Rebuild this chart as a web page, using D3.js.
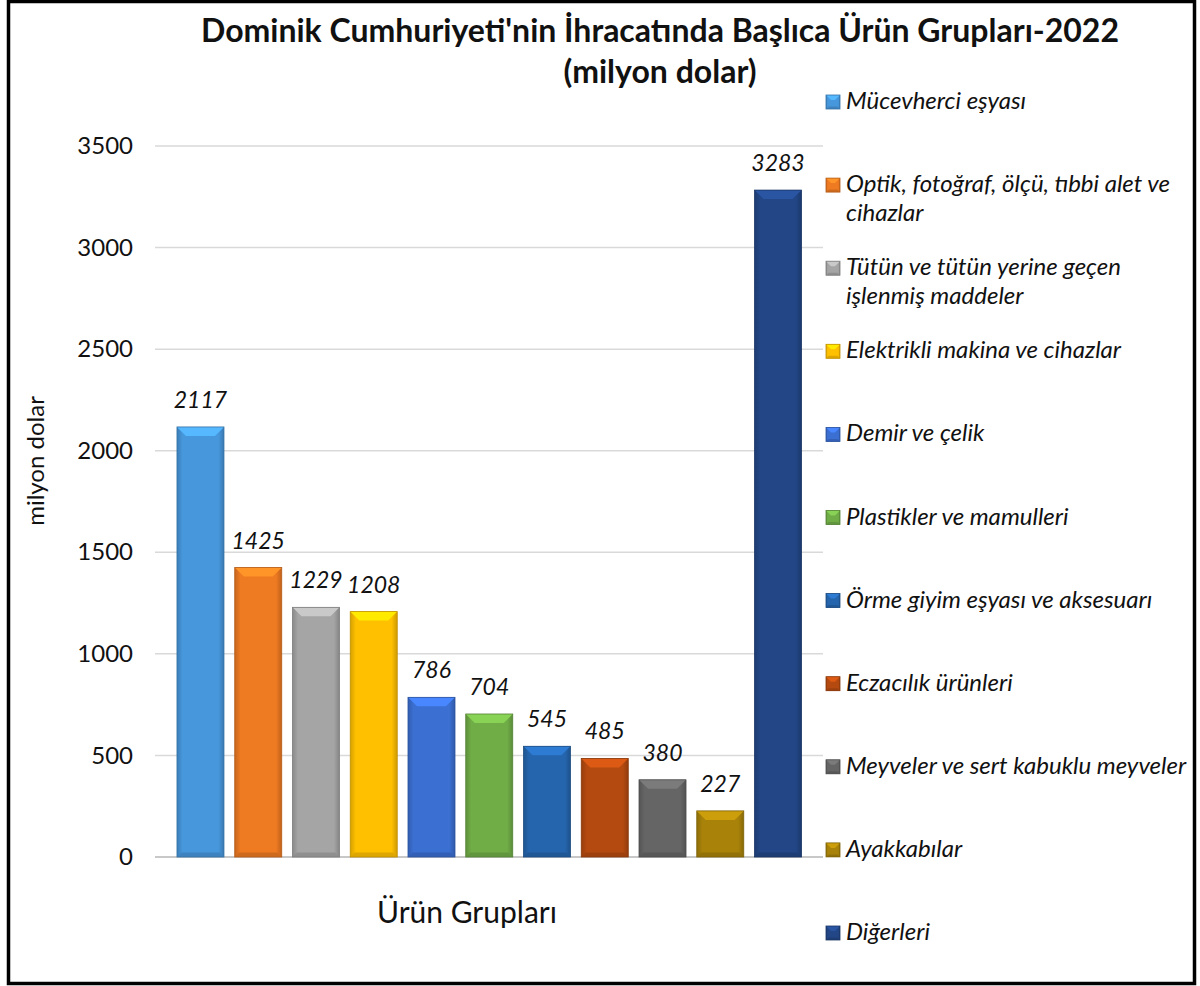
<!DOCTYPE html>
<html>
<head>
<meta charset="utf-8">
<script src="https://cdn.jsdelivr.net/npm/d3@7"></script>
<style>
  body { margin: 0; background: #fff; }
  svg { display: block; font-family: Lato, "Noto Sans", sans-serif; }
</style>
</head>
<body>
<svg id="chart" width="1200" height="986"></svg>
<script>
// data
var categories = [
  "Mücevherci eşyası",
  "Optik, fotoğraf, ölçü, tıbbi alet ve|cihazlar",
  "Tütün ve tütün yerine geçen|işlenmiş maddeler",
  "Elektrikli makina ve cihazlar",
  "Demir ve çelik",
  "Plastikler ve mamulleri",
  "Örme giyim eşyası ve aksesuarı",
  "Eczacılık ürünleri",
  "Meyveler ve sert kabuklu meyveler",
  "Ayakkabılar",
  "Diğerleri"
];
var values = [2117, 1425, 1229, 1208, 786, 704, 545, 485, 380, 227, 3283];
var colors = ["#4797dc", "#ee7a22", "#a5a5a5", "#ffc000", "#3b6fd2", "#70ad47",
              "#2565ad", "#b54a10", "#656565", "#a88209", "#224686"];
var yTicks = [0, 500, 1000, 1500, 2000, 2500, 3000, 3500];

var titleLines = ["Dominik Cumhuriyeti'nin İhracatında Başlıca Ürün Grupları-2022", "(milyon dolar)"];
var yTitle = "milyon dolar";
var xTitle = "Ürün Grupları";

(function(){
  "use strict"

  var svg = d3.select("#chart"),
  defs = svg.append("defs");

  // frame
  svg.append("rect")
  .attr("x", 8.5).attr("y", 1.5)
  .attr("width", 1186).attr("height", 982)
  .attr("fill", "#fff")
  .attr("stroke", "#000")
  .attr("stroke-width", 3.5);

  var x = d3.scaleBand()
  .domain(categories)
  .range([171.6, 806.9])
  .paddingInner(0.186)
  .paddingOuter(0.093);

  var y = d3.scaleLinear()
  .domain([0, 3500])
  .range([857, 146]);

  // gridlines
  svg.append("g")
  .selectAll("line")
  .data(yTicks)
  .enter()
  .append("line")
  .attr("x1", 155).attr("x2", 823)
  .attr("y1", function(d){ return y(d); })
  .attr("y2", function(d){ return y(d); })
  .attr("stroke", function(d){ return d === 0 ? "#c8c8c8" : "#d9d9d9"; })
  .attr("stroke-width", function(d){ return d === 0 ? 2 : 1.5; });

  // y axis labels
  var yAxis = d3.axisLeft(y).tickValues(yTicks).tickSize(0).tickPadding(0).tickFormat(d3.format("d"));
  var yg = svg.append("g")
  .attr("transform", "translate(133,0)")
  .call(yAxis);
  yg.select(".domain").remove();
  yg.selectAll("text")
  .attr("font-size", 24)
  .attr("font-family", "Lato, 'Noto Sans', sans-serif")
  .attr("fill", "#111");

  // gradients per colour
  colors.forEach(function(c, i){
    var g = defs.append("linearGradient")
    .attr("id", "grad" + i)
    .attr("x1", 0).attr("y1", 0).attr("x2", 1).attr("y2", 0);
    g.append("stop").attr("offset", "0%").attr("stop-color", d3.color(c).darker(0.5));
    g.append("stop").attr("offset", "12%").attr("stop-color", c);
    g.append("stop").attr("offset", "88%").attr("stop-color", c);
    g.append("stop").attr("offset", "100%").attr("stop-color", d3.color(c).darker(0.6));
  });

  function bevel(sel, w, h, i, b){
    var c = colors[i];
    sel.append("rect")
    .attr("width", w).attr("height", h)
    .attr("fill", "url(#grad" + i + ")");
    // top bevel
    sel.append("path")
    .attr("d", "M0 0 L" + w + " 0 L" + (w - b) + " " + b + " L" + b + " " + b + " Z")
    .attr("fill", d3.color(c).brighter(0.55));
    // bottom bevel
    sel.append("path")
    .attr("d", "M0 " + h + " L" + w + " " + h + " L" + (w - b * 0.5) + " " + (h - b * 0.5) + " L" + (b * 0.5) + " " + (h - b * 0.5) + " Z")
    .attr("fill", d3.color(c).darker(0.4));
    sel.append("rect")
    .attr("width", w).attr("height", h)
    .attr("fill", "none")
    .attr("stroke", d3.color(c).darker(0.8))
    .attr("stroke-width", 0.8);
  }

  // bars
  var bars = svg.append("g")
  .selectAll(".bar")
  .data(values)
  .enter()
  .append("g")
  .attr("class", "bar")
  .attr("transform", function(d, i){ return "translate(" + x(categories[i]) + "," + y(d) + ")"; });

  bars.each(function(d, i){
    bevel(d3.select(this), x.bandwidth(), y(0) - y(d), i, 9);
  });

  // value labels
  svg.append("g")
  .selectAll("text")
  .data(values)
  .enter()
  .append("text")
  .attr("x", function(d, i){ return x(categories[i]) + x.bandwidth() / 2; })
  .attr("y", function(d){ return y(d) - 19; })
  .attr("text-anchor", "middle")
  .attr("font-size", 23)
  .attr("font-style", "italic")
  .attr("fill", "#111")
  .text(function(d){ return d; });

  // title
  svg.append("text")
  .attr("x", 660).attr("y", 0)
  .attr("text-anchor", "middle")
  .attr("font-size", 32)
  .attr("font-weight", "bold")
  .attr("fill", "#111")
  .selectAll("tspan")
  .data(titleLines)
  .enter()
  .append("tspan")
  .attr("x", 660)
  .attr("y", function(d, i){ return 42 + i * 41; })
  .text(function(d){ return d; });

  // axis titles
  svg.append("text")
  .attr("transform", "translate(44,461) rotate(-90)")
  .attr("text-anchor", "middle")
  .attr("font-size", 24)
  .attr("fill", "#111")
  .text(yTitle);

  svg.append("text")
  .attr("x", 467).attr("y", 923)
  .attr("text-anchor", "middle")
  .attr("font-size", 30)
  .attr("fill", "#111")
  .text(xTitle);

  // legend
  var legend = svg.append("g")
  .selectAll(".legend_item")
  .data(categories)
  .enter()
  .append("g")
  .attr("class", "legend_item")
  .attr("transform", function(d, i){ return "translate(826," + (101 + i * 83.1) + ")"; });

  legend.append("g")
  .attr("transform", "translate(0,-6)")
  .each(function(d, i){
    bevel(d3.select(this), 14, 14, i, 5);
  });

  legend.append("text")
  .attr("font-size", 24)
  .attr("font-style", "italic")
  .attr("fill", "#111")
  .selectAll("tspan")
  .data(function(d){ return d.split("|"); })
  .enter()
  .append("tspan")
  .attr("x", 20)
  .attr("y", function(d, i){ return 8 + i * 29; })
  .text(function(d){ return d; });
})();
</script>
</body>
</html>
